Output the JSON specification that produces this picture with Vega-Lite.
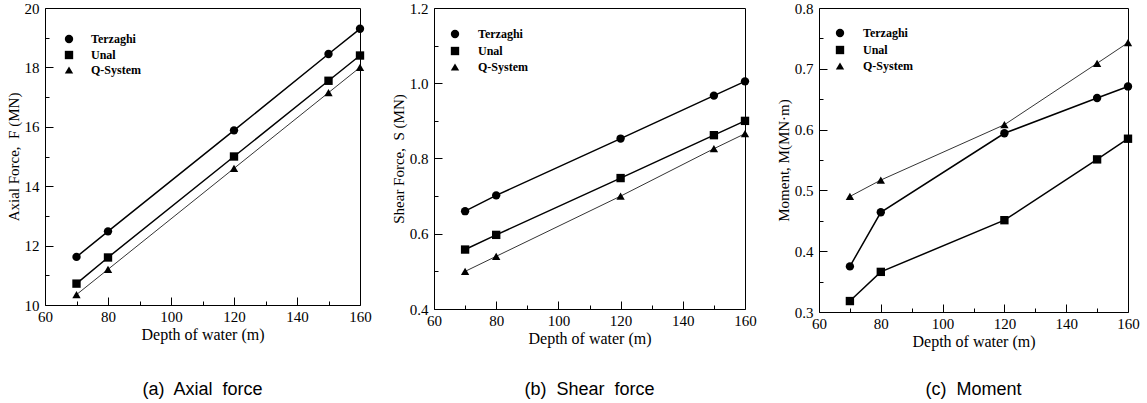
{
  "$schema": "https://vega.github.io/schema/vega-lite/v6.json",
  "padding": {"left": 5, "top": 0, "right": 5, "bottom": 0},
  "background": "white",
  "spacing": 18,
  "config": {
    "view": {"stroke": "black", "strokeWidth": 1},
    "axis": {
      "grid": false,
      "domain": false,
      "ticks": true,
      "tickWidth": 1,
      "tickOpacity": 1,
      "tickColor": "black",
      "zindex": 2,
      "labelColor": "black",
      "titleColor": "black",
      "labelFont": "Liberation Serif",
      "labelFontSize": 15,
      "titleFont": "Liberation Serif",
      "titleFontSize": 15,
      "titleFontWeight": "normal",
      "labelFlush": false
    },
    "axisX": {"titleFontSize": 16},
    "legend": {
      "labelFont": "Liberation Serif",
      "labelFontSize": 12,
      "labelFontWeight": "bold",
      "labelColor": "black"
    },
    "title": {"font": "Liberation Sans", "fontSize": 18, "fontWeight": "normal", "color": "black", "orient": "bottom"}
  },
  "data": {"values": [
    {"panel": "a", "method": "Terzaghi", "depth": 70, "value": 11.62},
    {"panel": "a", "method": "Terzaghi", "depth": 80, "value": 12.48},
    {"panel": "a", "method": "Terzaghi", "depth": 120, "value": 15.88},
    {"panel": "a", "method": "Terzaghi", "depth": 150, "value": 18.45},
    {"panel": "a", "method": "Terzaghi", "depth": 160, "value": 19.3},
    {"panel": "a", "method": "Unal", "depth": 70, "value": 10.72},
    {"panel": "a", "method": "Unal", "depth": 80, "value": 11.6},
    {"panel": "a", "method": "Unal", "depth": 120, "value": 15.0},
    {"panel": "a", "method": "Unal", "depth": 150, "value": 17.55},
    {"panel": "a", "method": "Unal", "depth": 160, "value": 18.4},
    {"panel": "a", "method": "Q-System", "depth": 70, "value": 10.35},
    {"panel": "a", "method": "Q-System", "depth": 80, "value": 11.2},
    {"panel": "a", "method": "Q-System", "depth": 120, "value": 14.6},
    {"panel": "a", "method": "Q-System", "depth": 150, "value": 17.15},
    {"panel": "a", "method": "Q-System", "depth": 160, "value": 18.0},
    {"panel": "b", "method": "Terzaghi", "depth": 70, "value": 0.66},
    {"panel": "b", "method": "Terzaghi", "depth": 80, "value": 0.702},
    {"panel": "b", "method": "Terzaghi", "depth": 120, "value": 0.853},
    {"panel": "b", "method": "Terzaghi", "depth": 150, "value": 0.967},
    {"panel": "b", "method": "Terzaghi", "depth": 160, "value": 1.005},
    {"panel": "b", "method": "Unal", "depth": 70, "value": 0.558},
    {"panel": "b", "method": "Unal", "depth": 80, "value": 0.597},
    {"panel": "b", "method": "Unal", "depth": 120, "value": 0.748},
    {"panel": "b", "method": "Unal", "depth": 150, "value": 0.862},
    {"panel": "b", "method": "Unal", "depth": 160, "value": 0.9},
    {"panel": "b", "method": "Q-System", "depth": 70, "value": 0.5},
    {"panel": "b", "method": "Q-System", "depth": 80, "value": 0.54},
    {"panel": "b", "method": "Q-System", "depth": 120, "value": 0.7},
    {"panel": "b", "method": "Q-System", "depth": 150, "value": 0.826},
    {"panel": "b", "method": "Q-System", "depth": 160, "value": 0.866},
    {"panel": "c", "method": "Terzaghi", "depth": 70, "value": 0.375},
    {"panel": "c", "method": "Terzaghi", "depth": 80, "value": 0.464},
    {"panel": "c", "method": "Terzaghi", "depth": 120, "value": 0.594},
    {"panel": "c", "method": "Terzaghi", "depth": 150, "value": 0.652},
    {"panel": "c", "method": "Terzaghi", "depth": 160, "value": 0.671},
    {"panel": "c", "method": "Unal", "depth": 70, "value": 0.318},
    {"panel": "c", "method": "Unal", "depth": 80, "value": 0.366},
    {"panel": "c", "method": "Unal", "depth": 120, "value": 0.451},
    {"panel": "c", "method": "Unal", "depth": 150, "value": 0.551},
    {"panel": "c", "method": "Unal", "depth": 160, "value": 0.585},
    {"panel": "c", "method": "Q-System", "depth": 70, "value": 0.49},
    {"panel": "c", "method": "Q-System", "depth": 80, "value": 0.517},
    {"panel": "c", "method": "Q-System", "depth": 120, "value": 0.608},
    {"panel": "c", "method": "Q-System", "depth": 150, "value": 0.709},
    {"panel": "c", "method": "Q-System", "depth": 160, "value": 0.743}
  ]},
  "resolve": {"scale": {"y": "independent", "shape": "independent"}, "legend": {"shape": "independent"}},
  "hconcat": [
    {
      "width": 315, "height": 297,
      "title": {"text": "(a)\u00a0 Axial\u00a0 force", "offset": 39},
      "transform": [{"filter": "datum.panel === 'a'"}],
      "resolve": {"axis": {"x": "independent", "y": "independent"}},
      "encoding": {
        "x": {"field": "depth", "type": "quantitative", "title": "Depth of water (m)",
          "scale": {"domain": [60, 160], "nice": false},
          "axis": {"orient": "bottom", "values": [60,80,100,120,140,160], "tickSize": 8, "offset": -8, "labelPadding": 4, "titlePadding": 2}},
        "y": {"field": "value", "type": "quantitative", "title": "Axial Force,\u00a0 F (MN)",
          "scale": {"domain": [10, 20], "nice": false, "zero": false},
          "axis": {"orient": "left", "values": [10,12,14,16,18,20], "tickSize": 8, "offset": -8, "labelPadding": 6, "titlePadding": 3}}
      },
      "layer": [
        {"mark": {"type": "line", "color": "black", "strokeWidth": 1.5},
         "transform": [{"filter": "datum.method !== 'Q-System'"}],
         "encoding": {"detail": {"field": "method"}}},
        {"mark": {"type": "line", "color": "black", "strokeWidth": 0.8},
         "transform": [{"filter": "datum.method === 'Q-System'"}],
         "encoding": {
           "x": {"field": "depth", "type": "quantitative", "axis": {"orient": "bottom", "values": [70,90,110,130,150], "tickSize": 4, "offset": -4, "labels": false, "title": null}},
           "y": {"field": "value", "type": "quantitative", "axis": {"orient": "left", "values": [11,13,15,17,19], "tickSize": 4, "offset": -4, "labels": false, "title": null}}}},
        {"mark": {"type": "point", "filled": true, "color": "black", "opacity": 1, "size": 70},
         "encoding": {
           "x": {"field": "depth", "type": "quantitative", "axis": null},
           "y": {"field": "value", "type": "quantitative", "axis": null},
           "shape": {"field": "method", "type": "nominal", "title": null,
           "scale": {"domain": ["Terzaghi", "Unal", "Q-System"], "range": ["circle", "square", "triangle-up"]},
           "legend": {"orient": "none", "legendX": 18, "legendY": 25, "padding": 0, "symbolSize": 70, "symbolFillColor": "black", "symbolStrokeColor": "black", "rowPadding": 0, "labelOffset": 16}}}}
      ]
    },
    {
      "width": 311, "height": 301,
      "title": {"text": "(b)\u00a0 Shear\u00a0 force", "offset": 35},
      "transform": [{"filter": "datum.panel === 'b'"}],
      "resolve": {"axis": {"x": "independent", "y": "independent"}},
      "encoding": {
        "x": {"field": "depth", "type": "quantitative", "title": "Depth of water (m)",
          "scale": {"domain": [60, 160], "nice": false},
          "axis": {"orient": "bottom", "values": [60,80,100,120,140,160], "tickSize": 8, "offset": -8, "labelPadding": 4, "titlePadding": 2}},
        "y": {"field": "value", "type": "quantitative", "title": "Shear Force,\u00a0 S (MN)",
          "scale": {"domain": [0.4, 1.2], "nice": false, "zero": false},
          "axis": {"orient": "left", "values": [0.4,0.6,0.8,1.0,1.2], "format": ".1f", "tickSize": 8, "offset": -8, "labelPadding": 6, "titlePadding": 3}}
      },
      "layer": [
        {"mark": {"type": "line", "color": "black", "strokeWidth": 1.5},
         "transform": [{"filter": "datum.method !== 'Q-System'"}],
         "encoding": {"detail": {"field": "method"}}},
        {"mark": {"type": "line", "color": "black", "strokeWidth": 0.8},
         "transform": [{"filter": "datum.method === 'Q-System'"}],
         "encoding": {
           "x": {"field": "depth", "type": "quantitative", "axis": {"orient": "bottom", "values": [70,90,110,130,150], "tickSize": 4, "offset": -4, "labels": false, "title": null}},
           "y": {"field": "value", "type": "quantitative", "axis": {"orient": "left", "values": [0.5,0.7,0.9,1.1], "tickSize": 4, "offset": -4, "labels": false, "title": null}}}},
        {"mark": {"type": "point", "filled": true, "color": "black", "opacity": 1, "size": 70},
         "encoding": {
           "x": {"field": "depth", "type": "quantitative", "axis": null},
           "y": {"field": "value", "type": "quantitative", "axis": null},
           "shape": {"field": "method", "type": "nominal", "title": null,
           "scale": {"domain": ["Terzaghi", "Unal", "Q-System"], "range": ["circle", "square", "triangle-up"]},
           "legend": {"orient": "none", "legendX": 15, "legendY": 20, "padding": 0, "symbolSize": 70, "symbolFillColor": "black", "symbolStrokeColor": "black", "rowPadding": 1, "labelOffset": 17}}}}
      ]
    },
    {
      "width": 309, "height": 304,
      "title": {"text": "(c)\u00a0 Moment", "offset": 32},
      "transform": [{"filter": "datum.panel === 'c'"}],
      "resolve": {"axis": {"x": "independent", "y": "independent"}},
      "encoding": {
        "x": {"field": "depth", "type": "quantitative", "title": "Depth of water (m)",
          "scale": {"domain": [60, 160], "nice": false},
          "axis": {"orient": "bottom", "values": [60,80,100,120,140,160], "tickSize": 8, "offset": -8, "labelPadding": 4, "titlePadding": 2}},
        "y": {"field": "value", "type": "quantitative", "title": "Moment, M(MN·m)",
          "scale": {"domain": [0.3, 0.8], "nice": false, "zero": false},
          "axis": {"orient": "left", "values": [0.3,0.4,0.5,0.6,0.7,0.8], "format": ".1f", "tickSize": 8, "offset": -8, "labelPadding": 6, "titlePadding": 3}}
      },
      "layer": [
        {"mark": {"type": "line", "color": "black", "strokeWidth": 1.5},
         "transform": [{"filter": "datum.method !== 'Q-System'"}],
         "encoding": {"detail": {"field": "method"}}},
        {"mark": {"type": "line", "color": "black", "strokeWidth": 0.8},
         "transform": [{"filter": "datum.method === 'Q-System'"}],
         "encoding": {
           "x": {"field": "depth", "type": "quantitative", "axis": {"orient": "bottom", "values": [70,90,110,130,150], "tickSize": 4, "offset": -4, "labels": false, "title": null}},
           "y": {"field": "value", "type": "quantitative", "axis": {"orient": "left", "values": [0.35,0.45,0.55,0.65,0.75], "tickSize": 4, "offset": -4, "labels": false, "title": null}}}},
        {"mark": {"type": "point", "filled": true, "color": "black", "opacity": 1, "size": 70},
         "encoding": {
           "x": {"field": "depth", "type": "quantitative", "axis": null},
           "y": {"field": "value", "type": "quantitative", "axis": null},
           "shape": {"field": "method", "type": "nominal", "title": null,
           "scale": {"domain": ["Terzaghi", "Unal", "Q-System"], "range": ["circle", "square", "triangle-up"]},
           "legend": {"orient": "none", "legendX": 15, "legendY": 19, "padding": 0, "symbolSize": 70, "symbolFillColor": "black", "symbolStrokeColor": "black", "rowPadding": 1, "labelOffset": 17}}}}
      ]
    }
  ]
}
